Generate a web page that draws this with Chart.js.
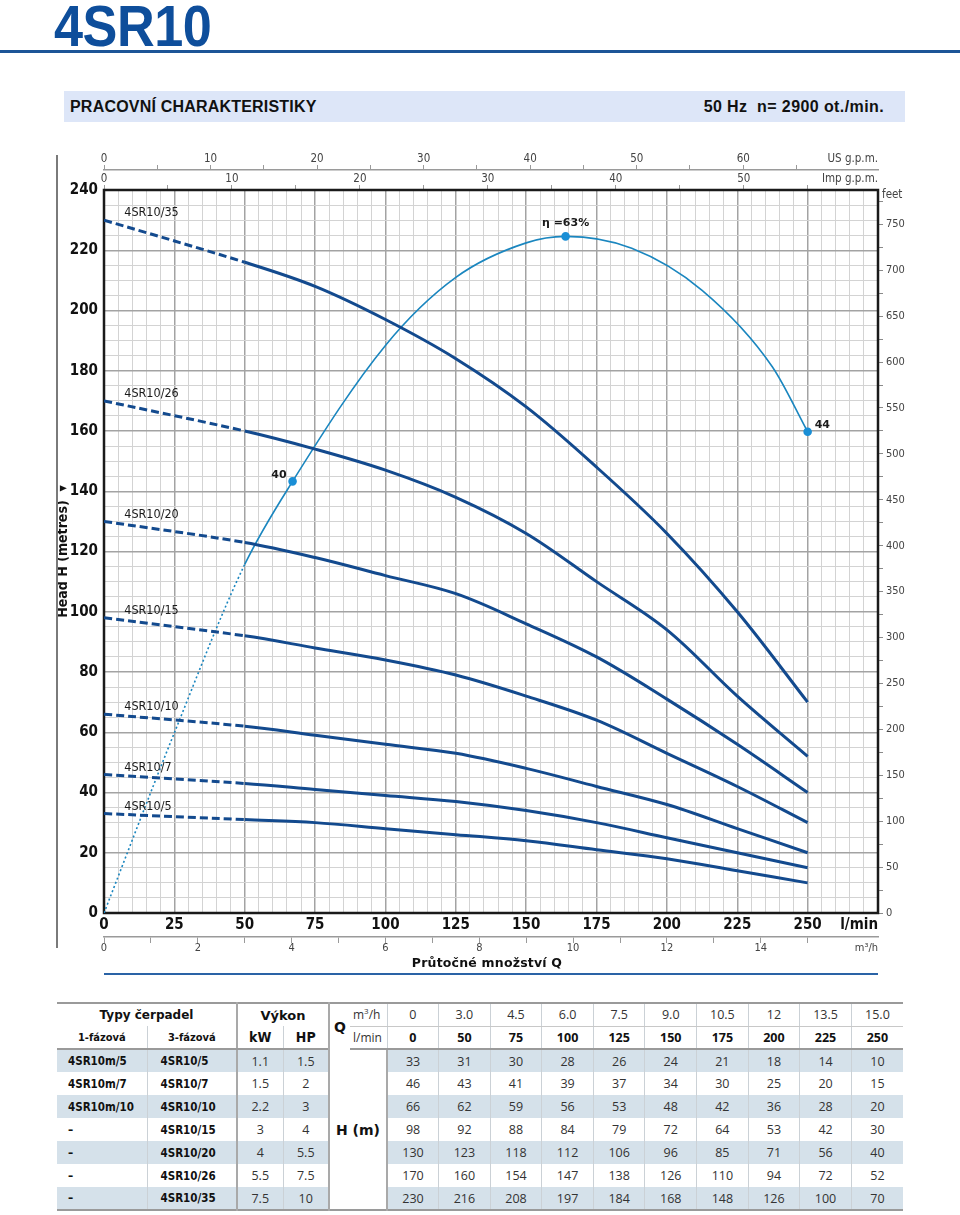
<!DOCTYPE html>
<html lang="cs">
<head>
<meta charset="utf-8">
<title>4SR10</title>
<script src="https://cdn.jsdelivr.net/npm/chart.js@4.4.1/dist/chart.umd.min.js"></script>
<style>
  body { margin: 0; background: #fff; }
  #page { position: relative; width: 960px; height: 1215px; overflow: hidden; }
  #title { position: absolute; left: 54px; top: -3px; margin: 0; font: bold 58px/1 "Liberation Sans", Arial, sans-serif; color: #0e4e9b; transform: scaleX(0.9); transform-origin: 0 0; letter-spacing: -0.5px; }
  #rule { position: absolute; left: 0; top: 50px; width: 960px; height: 3px; background: #1d5597; }
  #banner { position: absolute; left: 64px; top: 91px; width: 841px; height: 31px; background: #dde6f8; font: bold 16px/31px "Liberation Sans", Arial, sans-serif; color: #111; }
  #banner .l { position: absolute; left: 6px; letter-spacing: 0.2px; }
  #banner .r { position: absolute; right: 21px; letter-spacing: 0.4px; }
  #chart { position: absolute; left: 0; top: 140px; }
  #frame { position: absolute; left: 56px; top: 155px; width: 2px; height: 793px; background: #7a7a7a; }
  #qtitle { position: absolute; left: 100px; width: 774px; top: 955px; text-align: center; font: bold 12.5px "DejaVu Sans", sans-serif; color: #111; letter-spacing: 0.2px; }
  #qline { position: absolute; left: 104px; top: 973px; width: 774px; height: 2px; background: #2a63a6; }

  #tbl { position: absolute; left: 57px; top: 1002px; width: 846px; border-collapse: collapse; table-layout: fixed; font: 12.5px "Open Sans", sans-serif; color: #333; border-top: 2px solid #9a9a9a; border-bottom: 2px solid #9a9a9a; }
  #tbl tr { height: 23px; }
  #tbl td { padding: 0; text-align: center; white-space: nowrap; }
  #tbl td.n { border-left: 1px solid #cbd1d6; }
  #tbl td.dv { border-left: 2px solid #a9a9a9; }
  #tbl td.tl { border-left: 1px solid #cbd1d6; }
  #tbl tr.h1 td.n, #tbl tr.h1 td.u { border-bottom: 1px solid #c8c8c8; }
  #tbl tr.h2 td { border-bottom: 2px solid #9a9a9a; }
  #tbl td.hb { font: bold 12px "DejaVu Sans", sans-serif; color: #111; }
  #tbl td.s { font: bold 11px "DejaVu Sans Condensed", "DejaVu Sans", sans-serif; }
  #tbl td.k { font: bold 14px "DejaVu Sans Condensed", "DejaVu Sans", sans-serif; }
  #tbl td.q { font: bold 14px "DejaVu Sans", sans-serif; color: #111; text-align: left; padding-left: 4px; }
  #tbl td.u { text-align: left; padding-left: 3px; font-size: 12px; }
  #tbl td.b { font-weight: bold; color: #111; }
  #tbl td.m { font: bold 11.5px "DejaVu Sans Condensed", "DejaVu Sans", sans-serif; color: #111; text-align: left; padding-left: 11px; }
  #tbl td.m2 { padding-left: 13px; }
  #tbl td.hm { font: bold 14px "DejaVu Sans", sans-serif; color: #111; background: #fff; }
  #tbl tr.sh td { background: #d5e1ea; }
  #tbl tr.sh td.hm { background: #fff; }
  sup { font-size: 8px; line-height: 0; }
</style>
</head>
<body>
<div id="page">
  <h1 id="title">4SR10</h1>
  <div id="rule"></div>
  <div id="banner"><span class="l">PRACOVNÍ CHARAKTERISTIKY</span><span class="r">50 Hz&nbsp; n= 2900 ot./min.</span></div>
  <canvas id="chart" width="960" height="840"></canvas>
  <div id="frame"></div>
  <div id="qtitle">Průtočné množství Q</div>
  <div id="qline"></div>
  <table id="tbl"></table>
</div>
<script>
// průtok v tabulce a v grafu
const flowLmin = [0, 50, 75, 100, 125, 150, 175, 200, 225, 250];
const flowM3h = ['0', '3.0', '4.5', '6.0', '7.5', '9.0', '10.5', '12', '13.5', '15.0'];

const pumps1ph = ['4SR10m/5', '4SR10m/7', '4SR10m/10', '–', '–', '–', '–'];
const pumps3ph = ['4SR10/5', '4SR10/7', '4SR10/10', '4SR10/15', '4SR10/20', '4SR10/26', '4SR10/35'];
const powerKW = ['1.1', '1.5', '2.2', '3', '4', '5.5', '7.5'];
const powerHP = ['1.5', '2', '3', '4', '5.5', '7.5', '10'];

// dopravní výška H (m)
const head5 = [33, 31, 30, 28, 26, 24, 21, 18, 14, 10];
const head7 = [46, 43, 41, 39, 37, 34, 30, 25, 20, 15];
const head10 = [66, 62, 59, 56, 53, 48, 42, 36, 28, 20];
const head15 = [98, 92, 88, 84, 79, 72, 64, 53, 42, 30];
const head20 = [130, 123, 118, 112, 106, 96, 85, 71, 56, 40];
const head26 = [170, 160, 154, 147, 138, 126, 110, 94, 72, 52];
const head35 = [230, 216, 208, 197, 184, 168, 148, 126, 100, 70];
const heads = [head5, head7, head10, head15, head20, head26, head35];

// účinnost (%)
const effFlow = [0, 25, 50, 67, 100, 125, 150, 164, 187.5, 212.5, 237.5, 250];
const effPct = [0, 16.7, 32.3, 40, 52.6, 58.9, 62.1, 62.7, 61.6, 57.7, 50.6, 44.6];
const effLabels = ['', '', '', '40', '', '', '', 'η =63%', '', '', '', '44'];

// popisky os
const qTicks = [0, 25, 50, 75, 100, 125, 150, 175, 200, 225, 250];
const hTicks = [0, 20, 40, 60, 80, 100, 120, 140, 160, 180, 200, 220, 240];
const ftTicks = [0, 50, 100, 150, 200, 250, 300, 350, 400, 450, 500, 550, 600, 650, 700, 750];
const usTicks = [0, 10, 20, 30, 40, 50, 60];
const impTicks = [0, 10, 20, 30, 40, 50];
const m3Ticks = [0, 2, 4, 6, 8, 10, 12, 14];

// tabulka
const tbl = document.getElementById('tbl');
let html = '<colgroup><col style="width:90px"><col style="width:90px"><col style="width:46px"><col style="width:46px"><col style="width:21px"><col style="width:37px">';
flowLmin.forEach(() => { html += '<col style="width:51.6px">'; });
html += '</colgroup>';
html += '<tr class="h1"><td colspan="2" class="hb">Typy čerpadel</td><td colspan="2" class="hb dv" style="font-size:13px">Výkon</td><td rowspan="2" class="q dv">Q</td><td class="u">m<sup>3</sup>/h</td>';
flowM3h.forEach(v => { html += '<td class="n">' + v + '</td>'; });
html += '</tr><tr class="h2"><td class="hb s">1-fázová</td><td class="hb s tl">3-fázová</td><td class="hb k dv">kW</td><td class="hb k tl">HP</td><td class="u">l/min</td>';
flowLmin.forEach(v => { html += '<td class="n b">' + v + '</td>'; });
html += '</tr>';
pumps3ph.forEach((p, i) => {
  html += '<tr class="' + (i % 2 === 0 ? 'sh' : '') + '"><td class="m">' + pumps1ph[i] + '</td><td class="m m2 tl">' + p + '</td><td class="dv">' + powerKW[i] + '</td><td class="tl">' + powerHP[i] + '</td>';
  if (i === 0) html += '<td colspan="2" rowspan="7" class="hm dv">H (m)</td>';
  heads[i].forEach((h, j) => { html += '<td class="' + (j === 0 ? 'dv' : 'n') + '">' + h + '</td>'; });
  html += '</tr>';
});
tbl.innerHTML = html;

// graf
const NARROW = '"DejaVu Sans Condensed", "Liberation Sans", Arial, sans-serif';
const curveColor = '#134a8e';
const effColor = '#1a86bf';

const datasets = heads.map((h, i) => ({
  label: pumps3ph[i],
  data: flowLmin.map((q, j) => ({ x: q, y: h[j] })),
  xAxisID: 'x',
  yAxisID: 'y',
  borderColor: curveColor,
  borderWidth: 3,
  pointRadius: 0,
  tension: 0.35,
  segment: { borderDash: ctx => ctx.p1.parsed.x <= 50 ? [8, 4] : undefined }
}));
datasets.push({
  label: 'η',
  data: effFlow.map((q, j) => ({ x: q, y: effPct[j] })),
  xAxisID: 'x',
  yAxisID: 'yEff',
  borderColor: effColor,
  borderWidth: 1.6,
  backgroundColor: '#1a8fd6',
  pointBackgroundColor: '#1a8fd6',
  pointBorderColor: '#1a8fd6',
  pointRadius: ctx => effLabels[ctx.dataIndex] ? 3.5 : 0,
  cubicInterpolationMode: 'monotone',
  segment: { borderDash: ctx => ctx.p1.parsed.x <= 50 ? [2, 2.5] : undefined }
});

const decor = {
  id: 'decor',
  beforeDatasetsDraw(chart) {
    const { ctx, chartArea: a } = chart;
    ctx.save();
    ctx.strokeStyle = '#1a1a1a';
    ctx.lineWidth = 2.5;
    ctx.strokeRect(a.left, a.top, a.width, a.height);
    ctx.restore();
  },
  afterDatasetsDraw(chart) {
    const { ctx, scales, chartArea: a } = chart;
    const x = scales.x, y = scales.y;
    ctx.save();
    ctx.textBaseline = 'middle';

    // názvy čerpadel
    ctx.font = '12.5px ' + NARROW;
    ctx.fillStyle = '#1a1a1a';
    ctx.textAlign = 'left';
    pumps3ph.forEach((p, i) => {
      ctx.fillText(p, x.getPixelForValue(7.2), y.getPixelForValue(heads[i][0]) - 7);
    });

    // účinnost
    const meta = chart.getDatasetMeta(heads.length);
    ctx.font = 'bold 11px "DejaVu Sans", sans-serif';
    const peak = effPct.indexOf(Math.max(...effPct));
    meta.data.forEach((pt, i) => {
      const t = effLabels[i];
      if (!t) return;
      if (i < peak) { ctx.textAlign = 'right'; ctx.fillText(t, pt.x - 6, pt.y - 6); }
      else if (i === peak) { ctx.textAlign = 'center'; ctx.fillText(t, pt.x, pt.y - 13); }
      else { ctx.textAlign = 'left'; ctx.fillText(t, pt.x + 7, pt.y - 7); }
    });

    // jednotky os
    ctx.fillStyle = '#444';
    ctx.font = '11.5px ' + NARROW;
    ctx.textAlign = 'right';
    ctx.fillText('US g.p.m.', scales.xUS.right, scales.xUS.bottom - 11);
    ctx.fillText('Imp g.p.m.', scales.xImp.right, scales.xImp.bottom - 11);
    ctx.textAlign = 'left';
    ctx.fillText('feet', scales.yFt.left + 4, a.top + 5);
    ctx.font = '11px ' + NARROW;
    ctx.textAlign = 'right';
    ctx.fillText('m³/h', scales.xM3.right, scales.xM3.top + 11.5);
    ctx.fillStyle = '#111';
    ctx.font = 'bold 15px ' + NARROW;
    ctx.fillText('l/min', x.right, x.top + 12);
    ctx.restore();
  }
};

const smallTick = { size: 11.5, family: NARROW, lineHeight: 1 };
const minorGrid = '#d3d3d3';
const majorGrid = '#a3a3a3';

new Chart(document.getElementById('chart'), {
  type: 'line',
  data: { datasets },
  plugins: [decor],
  options: {
    responsive: false,
    animation: false,
    layout: { padding: { top: 10, bottom: 20, left: 0, right: 0 } },
    plugins: { legend: { display: false }, tooltip: { enabled: false } },
    scales: {
      x: {
        type: 'linear', position: 'bottom', weight: 0,
        min: 0, max: 275,
        afterFit: s => { s.height = 24; },
        border: { display: false },
        grid: {
          drawTicks: false,
          color: c => c.tick.value % 25 === 0 ? majorGrid : minorGrid,
          lineWidth: c => c.tick.value % 25 === 0 ? 1.5 : 1
        },
        ticks: {
          stepSize: 5, autoSkip: false, maxRotation: 0, padding: 3,
          color: '#111', font: { size: 15, weight: 'bold', family: NARROW },
          callback: v => qTicks.includes(v) ? v : ''
        }
      },
      xM3: {
        type: 'linear', position: 'bottom', weight: 1,
        min: 0, max: 275 * 0.06,
        afterFit: s => { s.height = 23; },
        afterBuildTicks: s => { s.ticks = s.ticks.filter(t => t.value <= 15); },
        border: { display: true, color: '#9a9a9a', width: 1.5 },
        grid: { drawOnChartArea: false, drawTicks: true, tickLength: 6, color: '#9a9a9a' },
        ticks: {
          stepSize: 1, autoSkip: false, maxRotation: 0, padding: 0, includeBounds: false,
          color: '#444', font: { size: 11, family: NARROW, lineHeight: 1 },
          callback: v => m3Ticks.includes(v) ? v : ''
        }
      },
      xImp: {
        type: 'linear', position: 'top', weight: 0,
        min: 0, max: 275 / 4.54609,
        afterFit: s => { s.height = 20; },
        afterBuildTicks: s => { s.ticks = s.ticks.filter(t => t.value <= 55); },
        border: { display: false },
        grid: { drawOnChartArea: false, drawTicks: true, tickLength: 5, color: '#9a9a9a' },
        ticks: {
          stepSize: 5, autoSkip: false, maxRotation: 0, padding: 0, includeBounds: false,
          color: '#444', font: smallTick,
          callback: v => impTicks.includes(v) ? v : ''
        }
      },
      xUS: {
        type: 'linear', position: 'top', weight: 1,
        min: 0, max: 275 / 3.78541,
        afterFit: s => { s.height = 20; },
        afterBuildTicks: s => { s.ticks = s.ticks.filter(t => t.value <= 65); },
        border: { display: true, color: '#9a9a9a', width: 1.5 },
        grid: { drawOnChartArea: false, drawTicks: true, tickLength: 5, color: '#9a9a9a' },
        ticks: {
          stepSize: 5, autoSkip: false, maxRotation: 0, padding: 0, includeBounds: false,
          color: '#444', font: smallTick,
          callback: v => usTicks.includes(v) ? v : ''
        }
      },
      y: {
        type: 'linear', position: 'left',
        min: 0, max: 240,
        afterFit: s => { s.width = 104; },
        border: { display: false },
        grid: {
          drawTicks: false,
          color: c => c.tick.value % 20 === 0 ? majorGrid : minorGrid,
          lineWidth: c => c.tick.value % 20 === 0 ? 1.5 : 1
        },
        title: {
          display: true, text: 'Head H (metres)  ▾', color: '#111',
          font: { size: 14, weight: 'bold', family: NARROW, lineHeight: 1.2 },
          padding: { top: 55, bottom: 0 }
        },
        ticks: {
          stepSize: 5, autoSkip: false, padding: 6,
          color: '#111', font: { size: 15, weight: 'bold', family: NARROW },
          callback: v => hTicks.includes(v) ? v : ''
        }
      },
      yFt: {
        type: 'linear', position: 'right',
        min: 0, max: 240 / 0.3048,
        afterFit: s => { s.width = 82; },
        afterBuildTicks: s => { s.ticks = s.ticks.filter(t => t.value <= 775); },
        border: { display: false },
        grid: { drawOnChartArea: false, drawTicks: true, tickLength: 5, color: '#8a8a8a' },
        ticks: {
          stepSize: 25, autoSkip: false, padding: 3, includeBounds: false,
          color: '#444', font: { size: 11, family: NARROW },
          callback: v => ftTicks.includes(v) ? v : ''
        }
      },
      yEff: { type: 'linear', display: false, min: 0, max: 67 }
    }
  }
});
</script>
</body>
</html>
